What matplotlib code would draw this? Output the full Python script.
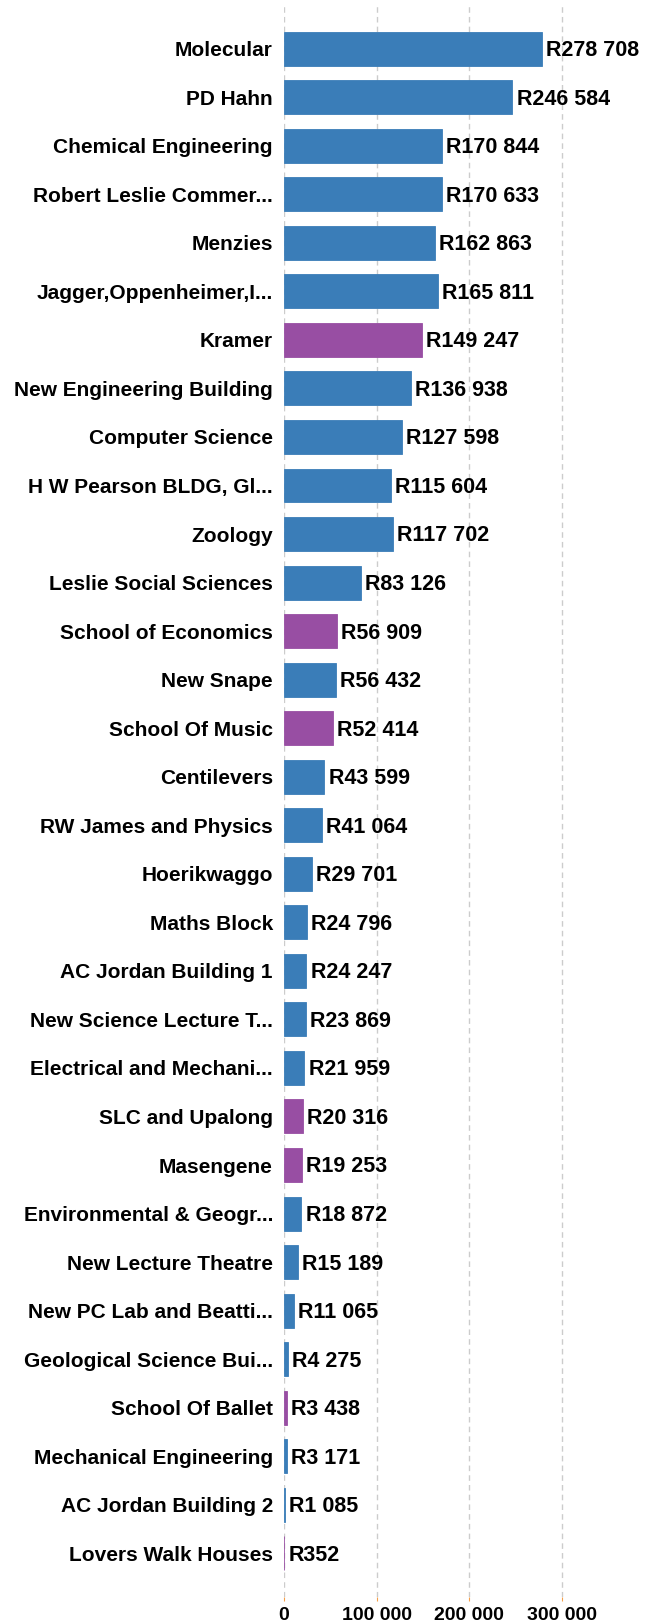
import matplotlib.pyplot as plt
from matplotlib.ticker import FuncFormatter

plt.rcParams['font.family'] = ['Liberation Sans', 'DejaVu Sans']

buildings = [
    "Molecular", "PD Hahn", "Chemical Engineering", "Robert Leslie Commer...",
    "Menzies", "Jagger,Oppenheimer,I...", "Kramer", "New Engineering Building",
    "Computer Science", "H W Pearson BLDG, Gl...", "Zoology",
    "Leslie Social Sciences", "School of Economics", "New Snape",
    "School Of Music", "Centilevers", "RW James and Physics", "Hoerikwaggo",
    "Maths Block", "AC Jordan Building 1", "New Science Lecture T...",
    "Electrical and Mechani...", "SLC and Upalong", "Masengene",
    "Environmental & Geogr...", "New Lecture Theatre", "New PC Lab and Beatti...",
    "Geological Science Bui...", "School Of Ballet", "Mechanical Engineering",
    "AC Jordan Building 2", "Lovers Walk Houses",
]
costs = [
    278708, 246584, 170844, 170633, 162863, 165811, 149247, 136938,
    127598, 115604, 117702, 83126, 56909, 56432, 52414, 43599, 41064,
    29701, 24796, 24247, 23869, 21959, 20316, 19253, 18872, 15189,
    11065, 4275, 3438, 3171, 1085, 352,
]
highlighted = ["Kramer", "School of Economics", "School Of Music",
               "SLC and Upalong", "Masengene", "School Of Ballet",
               "Lovers Walk Houses"]

blue = "#3a7db8"
purple = "#984ea3"
colors = [purple if b in highlighted else blue for b in buildings]

def fmt(v):
    return f"{int(v):,}".replace(",", " ")

fig = plt.figure(figsize=(6.5, 16.23), dpi=100)
ax = fig.add_axes([284 / 650, 1 - 1597 / 1623, 1 - 284 / 650, (1597 - 5) / 1623])

y = list(range(len(buildings)))
ax.barh(y, costs, height=0.7, color=colors, edgecolor=colors,
        linewidth=0.6, zorder=2)
for yi, v in zip(y, costs):
    ax.text(v + 4500, yi + 0.04, "R" + fmt(v), va="center", ha="left",
            fontsize=15.5, fontweight="bold", color="black", zorder=3)

ax.set_yticks(y)
ax.set_yticklabels(buildings, fontsize=15, fontweight="bold")
ax.set_ylim(len(buildings) - 0.1, -0.9)
ax.set_xlim(0, 395000)
ax.set_xticks([0, 100000, 200000, 300000])
ax.xaxis.set_major_formatter(FuncFormatter(lambda v, p: fmt(v)))
for lbl in ax.get_xticklabels():
    lbl.set_fontweight("bold")
    lbl.set_fontsize(14)
ax.tick_params(axis="y", length=0, pad=8)
ax.tick_params(axis="x", length=3, color="#f5a04a", pad=4)
ax.grid(axis="x", color="#cccccc", linestyle=(0, (4, 3)), linewidth=1, zorder=0)
for s in ax.spines.values():
    s.set_visible(False)

fig.savefig("out.png", dpi=100)
